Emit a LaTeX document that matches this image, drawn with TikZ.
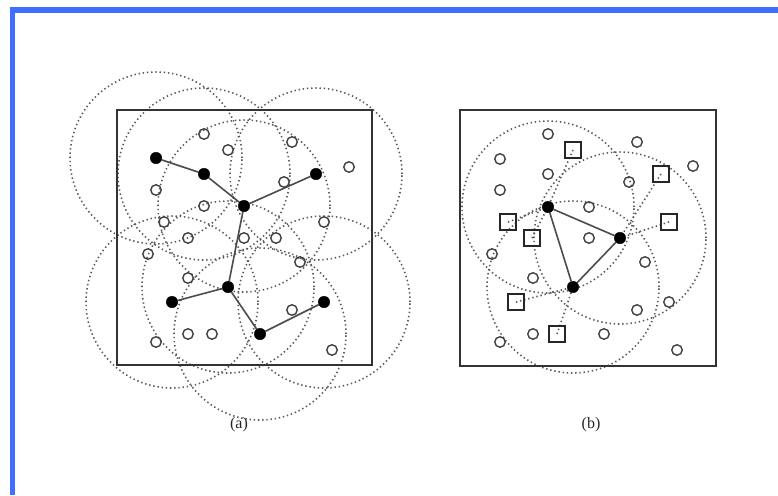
\documentclass[tikz,border=0pt]{standalone}
\usepackage{fontspec}
\setmainfont{Liberation Serif}
\usetikzlibrary{backgrounds}
\definecolor{framblue}{RGB}{64,110,255}
\definecolor{rangegray}{RGB}{90,90,90}
\tikzset{
  bnode/.style={circle,fill=black,draw=black,inner sep=0pt,minimum size=11.5pt},
  wnode/.style={circle,draw=black!75,line width=1.4pt,inner sep=0pt,minimum size=10.5pt},
  snode/.style={rectangle,draw=black!85,line width=1.5pt,inner sep=0pt,minimum size=16pt},
  edge/.style={draw=black!70,line width=1.6pt},
  rangec/.style={draw=rangegray,line width=1.6pt,dash pattern=on 1.4pt off 2.8pt},
  link/.style={draw=rangegray,line width=1.6pt,dash pattern=on 1.4pt off 2.8pt},
  panel/.style={draw=black!80,line width=1.6pt},
  caption/.style={font=\fontsize{16}{18}\selectfont,inner sep=0pt,text=black!85}
}
\begin{document}
\begin{tikzpicture}[x=1pt,y=-1pt]
\useasboundingbox (0,0) rectangle (778,495);
% blue frame
\draw[framblue,line width=5.5pt,line join=miter] (12.5,495) -- (12.5,10) -- (778,10);

% ---------- panel (a) ----------
\node[panel,rectangle,minimum width=255pt,minimum height=255pt,inner sep=0pt] (pa) at (244.5,237.5) {};
\node[bnode] (a1) at (156,158) {};
\node[bnode] (a2) at (204,174) {};
\node[bnode] (a3) at (244,206) {};
\node[bnode] (a4) at (316,174) {};
\node[bnode] (a5) at (228,287) {};
\node[bnode] (a6) at (172,302) {};
\node[bnode] (a7) at (260,334) {};
\node[bnode] (a8) at (324,302) {};

\node[wnode] (aw1) at (204,134) {};
\node[wnode] (aw2) at (228,150) {};
\node[wnode] (aw3) at (292,142) {};
\node[wnode] (aw4) at (349,167) {};
\node[wnode] (aw5) at (156,190) {};
\node[wnode] (aw6) at (284,182) {};
\node[wnode] (aw7) at (204,206) {};
\node[wnode] (aw8) at (164,222) {};
\node[wnode] (aw9) at (324,222) {};
\node[wnode] (aw10) at (188,238) {};
\node[wnode] (aw11) at (244,238) {};
\node[wnode] (aw12) at (276,238) {};
\node[wnode] (aw13) at (148,254) {};
\node[wnode] (aw14) at (300,262) {};
\node[wnode] (aw15) at (188,278) {};
\node[wnode] (aw16) at (292,310) {};
\node[wnode] (aw17) at (188,334) {};
\node[wnode] (aw18) at (212,334) {};
\node[wnode] (aw19) at (156,342) {};
\node[wnode] (aw20) at (332,350) {};

\draw[edge] (a1) -- (a2);
\draw[edge] (a2) -- (a3);
\draw[edge] (a3) -- (a4);
\draw[edge] (a3) -- (a5);
\draw[edge] (a5) -- (a6);
\draw[edge] (a5) -- (a7);
\draw[edge] (a7) -- (a8);

\begin{scope}[on background layer]
\foreach \n in {a1,a2,a3,a4,a5,a6,a7,a8}
  \draw[rangec] (\n.center) circle[radius=86pt];
\end{scope}

\node[caption] (capa) at (239,425) {(a)};

% ---------- panel (b) ----------
\node[panel,rectangle,minimum width=256pt,minimum height=256pt,inner sep=0pt] (pb) at (588,238) {};
\node[bnode] (b1) at (548,207) {};
\node[bnode] (b2) at (620,238) {};
\node[bnode] (b3) at (573,287) {};

\node[wnode] (bw1) at (548,134) {};
\node[wnode] (bw2) at (637,142) {};
\node[wnode] (bw3) at (500,159) {};
\node[wnode] (bw4) at (693,166) {};
\node[wnode] (bw5) at (548,174) {};
\node[wnode] (bw6) at (629,182) {};
\node[wnode] (bw7) at (500,190) {};
\node[wnode] (bw8) at (589,207) {};
\node[wnode] (bw9) at (589,238) {};
\node[wnode] (bw10) at (492,254) {};
\node[wnode] (bw11) at (645,262) {};
\node[wnode] (bw12) at (533,278) {};
\node[wnode] (bw13) at (669,302) {};
\node[wnode] (bw14) at (637,310) {};
\node[wnode] (bw15) at (500,342) {};
\node[wnode] (bw16) at (533,334) {};
\node[wnode] (bw17) at (604,334) {};
\node[wnode] (bw18) at (677,350) {};

\node[snode] (s1) at (573,150) {};
\node[snode] (s2) at (661,174) {};
\node[snode] (s3) at (508,222) {};
\node[snode] (s4) at (669,222) {};
\node[snode] (s5) at (532,238) {};
\node[snode] (s6) at (516,302) {};
\node[snode] (s7) at (557,334) {};

\draw[edge] (b1) -- (b2);
\draw[edge] (b2) -- (b3);
\draw[edge] (b3) -- (b1);

\begin{scope}[on background layer]
\foreach \n in {b1,b2,b3}
  \draw[rangec] (\n.center) circle[radius=86pt];
\draw[link] (s1.center) -- (b1);
\draw[link] (s3.center) -- (b1);
\draw[link] (s5.center) -- (b1);
\draw[link] (s2.center) -- (b2);
\draw[link] (s4.center) -- (b2);
\draw[link] (s6.center) -- (b3);
\draw[link] (s7.center) -- (b3);
\end{scope}

\node[caption] (capb) at (591,425) {(b)};
\end{tikzpicture}
\end{document}
